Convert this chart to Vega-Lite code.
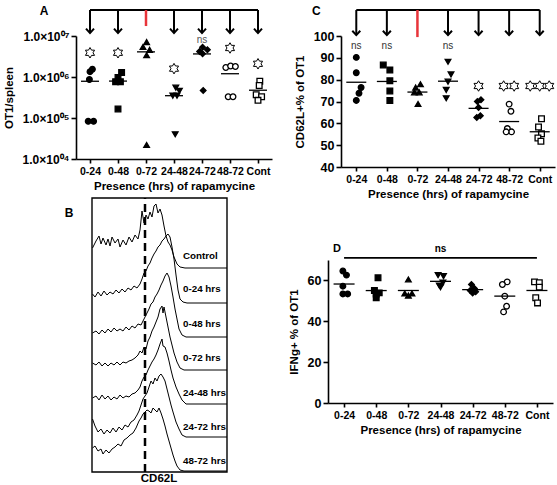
{
"$schema": "https://vega.github.io/schema/vega-lite/v6.json",
"padding": {"left": 3, "top": 4, "right": 0, "bottom": 0},
"config": {
 "font": "Liberation Sans",
 "view": {"stroke": null},
 "axis": {"labelFontWeight": "bold", "titleFontWeight": "bold", "labelColor": "black", "titleColor": "black", "domainColor": "black", "tickColor": "black", "domainWidth": 1.6, "tickWidth": 1.6, "grid": false, "labelFontSize": 10.5, "titleFontSize": 11.5},
 "axisY": {"labelFontSize": 12.5, "tickSize": 5, "labelPadding": 2, "titlePadding": 8, "labelOverlap": false},
 "axisX": {"labelAngle": 0, "tickSize": 4, "labelPadding": 3, "titlePadding": 4, "labelOverlap": false},
 "text": {"font": "Liberation Sans"}
},
"datasets": {
 "pts": [
  {"panel":"A","group":"0-24","value":1550000,"j":0.4},{"panel":"A","group":"0-24","value":1350000,"j":0.0},{"panel":"A","group":"0-24","value":870000,"j":-0.1},{"panel":"A","group":"0-24","value":83000,"j":-0.3},{"panel":"A","group":"0-24","value":83000,"j":0.6},
  {"panel":"A","group":"0-48","value":1290000,"j":0.6},{"panel":"A","group":"0-48","value":980000,"j":0.0},{"panel":"A","group":"0-48","value":770000,"j":-0.4},{"panel":"A","group":"0-48","value":770000,"j":0.4},{"panel":"A","group":"0-48","value":166000,"j":0.0},
  {"panel":"A","group":"0-72","value":7100000,"j":0.1},{"panel":"A","group":"0-72","value":5400000,"j":-0.5},{"panel":"A","group":"0-72","value":4600000,"j":0.6},{"panel":"A","group":"0-72","value":3400000,"j":0.1},{"panel":"A","group":"0-72","value":22000,"j":0.1},
  {"panel":"A","group":"24-48","value":550000,"j":0.3},{"panel":"A","group":"24-48","value":460000,"j":0.9},{"panel":"A","group":"24-48","value":350000,"j":-0.2},{"panel":"A","group":"24-48","value":350000,"j":0.5},{"panel":"A","group":"24-48","value":40000,"j":0.2},
  {"panel":"A","group":"24-72","value":5300000,"j":0.1},{"panel":"A","group":"24-72","value":4600000,"j":0.9},{"panel":"A","group":"24-72","value":4200000,"j":-0.4},{"panel":"A","group":"24-72","value":3700000,"j":0.1},{"panel":"A","group":"24-72","value":470000,"j":0.2},
  {"panel":"A","group":"48-72","value":1700000,"j":-0.7},{"panel":"A","group":"48-72","value":1850000,"j":0.1},{"panel":"A","group":"48-72","value":1800000,"j":0.9},{"panel":"A","group":"48-72","value":330000,"j":-0.3},{"panel":"A","group":"48-72","value":330000,"j":0.5},
  {"panel":"A","group":"Cont","value":790000,"j":0.3},{"panel":"A","group":"Cont","value":620000,"j":0.2},{"panel":"A","group":"Cont","value":370000,"j":-0.3},{"panel":"A","group":"Cont","value":330000,"j":0.6},{"panel":"A","group":"Cont","value":270000,"j":0.0},
  {"panel":"C","group":"0-24","value":90.2,"j":0.0},{"panel":"C","group":"0-24","value":83.2,"j":0.0},{"panel":"C","group":"0-24","value":76.4,"j":0.8},{"panel":"C","group":"0-24","value":73.8,"j":0.45},{"panel":"C","group":"0-24","value":70.5,"j":0.0},
  {"panel":"C","group":"0-48","value":86.7,"j":-0.6},{"panel":"C","group":"0-48","value":84.4,"j":0.5},{"panel":"C","group":"0-48","value":79.5,"j":0.5},{"panel":"C","group":"0-48","value":74.8,"j":0.5},{"panel":"C","group":"0-48","value":70.5,"j":0.5},
  {"panel":"C","group":"0-72","value":77.9,"j":0.5},{"panel":"C","group":"0-72","value":76.4,"j":-0.3},{"panel":"C","group":"0-72","value":74.2,"j":0.3},{"panel":"C","group":"0-72","value":74.2,"j":-0.5},{"panel":"C","group":"0-72","value":68.9,"j":0.1},
  {"panel":"C","group":"24-48","value":88.2,"j":0.0},{"panel":"C","group":"24-48","value":82.4,"j":0.5},{"panel":"C","group":"24-48","value":79.1,"j":0.0},{"panel":"C","group":"24-48","value":75.3,"j":-0.3},{"panel":"C","group":"24-48","value":71.5,"j":-0.3},
  {"panel":"C","group":"24-72","value":70.8,"j":0.4},{"panel":"C","group":"24-72","value":70.0,"j":-0.2},{"panel":"C","group":"24-72","value":67.3,"j":0.0},{"panel":"C","group":"24-72","value":63.5,"j":0.3},{"panel":"C","group":"24-72","value":62.7,"j":-0.3},
  {"panel":"C","group":"48-72","value":68.8,"j":0.0},{"panel":"C","group":"48-72","value":65.5,"j":0.3},{"panel":"C","group":"48-72","value":57.6,"j":-0.3},{"panel":"C","group":"48-72","value":56.1,"j":0.4},{"panel":"C","group":"48-72","value":56.1,"j":-0.5},
  {"panel":"C","group":"Cont","value":62.1,"j":0.3},{"panel":"C","group":"Cont","value":58.3,"j":-0.2},{"panel":"C","group":"Cont","value":55.2,"j":0.3},{"panel":"C","group":"Cont","value":53.3,"j":-0.3},{"panel":"C","group":"Cont","value":51.8,"j":0.2},
  {"panel":"D","group":"0-24","value":64.6,"j":-0.2},{"panel":"D","group":"0-24","value":62.6,"j":0.4},{"panel":"D","group":"0-24","value":57.2,"j":-0.2},{"panel":"D","group":"0-24","value":53.4,"j":-0.2},{"panel":"D","group":"0-24","value":53.4,"j":0.6},
  {"panel":"D","group":"0-48","value":61.3,"j":0.3},{"panel":"D","group":"0-48","value":55.1,"j":-0.3},{"panel":"D","group":"0-48","value":53.9,"j":0.5},{"panel":"D","group":"0-48","value":53.4,"j":0.0},{"panel":"D","group":"0-48","value":51.5,"j":0.0},
  {"panel":"D","group":"0-72","value":60.5,"j":0.0},{"panel":"D","group":"0-72","value":53.6,"j":-0.6},{"panel":"D","group":"0-72","value":52.6,"j":0.0},{"panel":"D","group":"0-72","value":53.6,"j":0.6},
  {"panel":"D","group":"24-48","value":62.6,"j":-0.4},{"panel":"D","group":"24-48","value":62.1,"j":0.5},{"panel":"D","group":"24-48","value":58.9,"j":0.4},{"panel":"D","group":"24-48","value":57.5,"j":-0.2},{"panel":"D","group":"24-48","value":56.7,"j":0.0},
  {"panel":"D","group":"24-72","value":58.0,"j":-0.2},{"panel":"D","group":"24-72","value":56.1,"j":0.3},{"panel":"D","group":"24-72","value":55.1,"j":-0.4},{"panel":"D","group":"24-72","value":54.4,"j":0.5},{"panel":"D","group":"24-72","value":53.9,"j":0.0},
  {"panel":"D","group":"48-72","value":59.3,"j":0.4},{"panel":"D","group":"48-72","value":58.0,"j":-0.4},{"panel":"D","group":"48-72","value":52.3,"j":0.0},{"panel":"D","group":"48-72","value":47.4,"j":0.3},{"panel":"D","group":"48-72","value":44.6,"j":-0.2},
  {"panel":"D","group":"Cont","value":59.3,"j":-0.4},{"panel":"D","group":"Cont","value":58.9,"j":0.4},{"panel":"D","group":"Cont","value":56.7,"j":0.4},{"panel":"D","group":"Cont","value":51.5,"j":-0.2},{"panel":"D","group":"Cont","value":49.0,"j":0.1}
 ],
 "ann": [
  {"panel":"A","group":"0-24","kind":"star","value":3900000,"k":0},
  {"panel":"A","group":"0-48","kind":"star","value":3900000,"k":0},
  {"panel":"A","group":"24-48","kind":"star","value":1600000,"k":0},
  {"panel":"A","group":"48-72","kind":"star","value":5100000,"k":0},
  {"panel":"A","group":"Cont","kind":"star","value":2100000,"k":0},
  {"panel":"A","group":"24-72","kind":"ns","value":7900000,"k":0},
  {"panel":"C","group":"0-24","kind":"ns","value":95.4,"k":0},
  {"panel":"C","group":"0-48","kind":"ns","value":95.4,"k":0},
  {"panel":"C","group":"24-48","kind":"ns","value":95.4,"k":0},
  {"panel":"C","group":"24-72","kind":"star","value":77.1,"k":0},
  {"panel":"C","group":"48-72","kind":"star","value":77.1,"k":-0.55},
  {"panel":"C","group":"48-72","kind":"star","value":77.1,"k":0.5},
  {"panel":"C","group":"Cont","kind":"star","value":77.1,"k":-0.95},
  {"panel":"C","group":"Cont","kind":"star","value":77.1,"k":0},
  {"panel":"C","group":"Cont","kind":"star","value":77.1,"k":0.95}
 ],
 "arrows": [
  {"group":"0-24","kind":"arrow"},{"group":"0-48","kind":"arrow"},{"group":"0-72","kind":"stop"},{"group":"24-48","kind":"arrow"},{"group":"24-72","kind":"arrow"},{"group":"48-72","kind":"arrow"},{"group":"Cont","kind":"arrow"}
 ],
 "hist": [
  {"s":"Control","v":0.5,"c":224},{"s":"Control","v":4,"c":231},{"s":"Control","v":7,"c":236},{"s":"Control","v":9,"c":228},{"s":"Control","v":11,"c":234},{"s":"Control","v":14,"c":227},{"s":"Control","v":16,"c":233},{"s":"Control","v":18,"c":226},{"s":"Control","v":20,"c":235},{"s":"Control","v":23,"c":229},{"s":"Control","v":26,"c":233},{"s":"Control","v":28,"c":225},{"s":"Control","v":31,"c":232},{"s":"Control","v":34,"c":227},{"s":"Control","v":37,"c":235},{"s":"Control","v":40,"c":230},{"s":"Control","v":43,"c":237},{"s":"Control","v":46,"c":233},{"s":"Control","v":48,"c":242},{"s":"Control","v":50,"c":261},{"s":"Control","v":52,"c":249},{"s":"Control","v":54,"c":257},{"s":"Control","v":56,"c":253},{"s":"Control","v":58,"c":260},{"s":"Control","v":60,"c":255},{"s":"Control","v":62,"c":266},{"s":"Control","v":64,"c":268},{"s":"Control","v":66,"c":259},{"s":"Control","v":68,"c":263},{"s":"Control","v":70,"c":257},{"s":"Control","v":72,"c":246},{"s":"Control","v":74,"c":236},{"s":"Control","v":76,"c":230},{"s":"Control","v":78,"c":227},{"s":"Control","v":80,"c":222},{"s":"Control","v":82,"c":215},{"s":"Control","v":85,"c":208},{"s":"Control","v":88,"c":205},{"s":"Control","v":93,"c":204},{"s":"Control","v":135,"c":204},
  {"s":"0-24","v":0.5,"c":178},{"s":"0-24","v":3,"c":175},{"s":"0-24","v":6,"c":180},{"s":"0-24","v":9,"c":176},{"s":"0-24","v":12,"c":181},{"s":"0-24","v":15,"c":177},{"s":"0-24","v":18,"c":180},{"s":"0-24","v":21,"c":178},{"s":"0-24","v":24,"c":182},{"s":"0-24","v":27,"c":179},{"s":"0-24","v":30,"c":183},{"s":"0-24","v":33,"c":180},{"s":"0-24","v":36,"c":184},{"s":"0-24","v":39,"c":182},{"s":"0-24","v":42,"c":186},{"s":"0-24","v":45,"c":184},{"s":"0-24","v":48,"c":188},{"s":"0-24","v":50,"c":193},{"s":"0-24","v":52,"c":199},{"s":"0-24","v":54,"c":201},{"s":"0-24","v":56,"c":206},{"s":"0-24","v":58,"c":209},{"s":"0-24","v":60,"c":214},{"s":"0-24","v":62,"c":218},{"s":"0-24","v":64,"c":221},{"s":"0-24","v":66,"c":225},{"s":"0-24","v":68,"c":227},{"s":"0-24","v":70,"c":231},{"s":"0-24","v":72,"c":233},{"s":"0-24","v":74,"c":236},{"s":"0-24","v":76,"c":238},{"s":"0-24","v":78,"c":235},{"s":"0-24","v":80,"c":225},{"s":"0-24","v":82,"c":213},{"s":"0-24","v":84,"c":197},{"s":"0-24","v":86,"c":182},{"s":"0-24","v":88,"c":173},{"s":"0-24","v":91,"c":170},{"s":"0-24","v":95,"c":169},{"s":"0-24","v":135,"c":169},
  {"s":"0-48","v":0.5,"c":139},{"s":"0-48","v":4,"c":141},{"s":"0-48","v":7,"c":138},{"s":"0-48","v":10,"c":142},{"s":"0-48","v":13,"c":139},{"s":"0-48","v":16,"c":143},{"s":"0-48","v":19,"c":140},{"s":"0-48","v":22,"c":144},{"s":"0-48","v":25,"c":141},{"s":"0-48","v":28,"c":143},{"s":"0-48","v":31,"c":141},{"s":"0-48","v":34,"c":145},{"s":"0-48","v":37,"c":142},{"s":"0-48","v":40,"c":146},{"s":"0-48","v":43,"c":144},{"s":"0-48","v":46,"c":148},{"s":"0-48","v":49,"c":147},{"s":"0-48","v":51,"c":151},{"s":"0-48","v":53,"c":155},{"s":"0-48","v":55,"c":159},{"s":"0-48","v":57,"c":163},{"s":"0-48","v":59,"c":168},{"s":"0-48","v":61,"c":170},{"s":"0-48","v":63,"c":175},{"s":"0-48","v":65,"c":178},{"s":"0-48","v":67,"c":182},{"s":"0-48","v":69,"c":187},{"s":"0-48","v":71,"c":191},{"s":"0-48","v":73,"c":196},{"s":"0-48","v":75,"c":199},{"s":"0-48","v":77,"c":195},{"s":"0-48","v":79,"c":186},{"s":"0-48","v":81,"c":175},{"s":"0-48","v":83,"c":163},{"s":"0-48","v":85,"c":153},{"s":"0-48","v":87,"c":143},{"s":"0-48","v":90,"c":137},{"s":"0-48","v":94,"c":135},{"s":"0-48","v":135,"c":135},
  {"s":"0-72","v":0.5,"c":109},{"s":"0-72","v":4,"c":107},{"s":"0-72","v":7,"c":110},{"s":"0-72","v":10,"c":106},{"s":"0-72","v":13,"c":109},{"s":"0-72","v":16,"c":106},{"s":"0-72","v":19,"c":109},{"s":"0-72","v":22,"c":107},{"s":"0-72","v":25,"c":110},{"s":"0-72","v":28,"c":107},{"s":"0-72","v":31,"c":110},{"s":"0-72","v":34,"c":109},{"s":"0-72","v":37,"c":111},{"s":"0-72","v":40,"c":112},{"s":"0-72","v":43,"c":114},{"s":"0-72","v":46,"c":117},{"s":"0-72","v":48,"c":121},{"s":"0-72","v":50,"c":119},{"s":"0-72","v":52,"c":125},{"s":"0-72","v":54,"c":123},{"s":"0-72","v":56,"c":131},{"s":"0-72","v":58,"c":135},{"s":"0-72","v":60,"c":141},{"s":"0-72","v":62,"c":145},{"s":"0-72","v":64,"c":150},{"s":"0-72","v":66,"c":155},{"s":"0-72","v":68,"c":163},{"s":"0-72","v":70,"c":166},{"s":"0-72","v":71,"c":159},{"s":"0-72","v":72,"c":165},{"s":"0-72","v":74,"c":155},{"s":"0-72","v":76,"c":145},{"s":"0-72","v":78,"c":135},{"s":"0-72","v":80,"c":127},{"s":"0-72","v":82,"c":119},{"s":"0-72","v":85,"c":110},{"s":"0-72","v":88,"c":104},{"s":"0-72","v":92,"c":102},{"s":"0-72","v":135,"c":102},
  {"s":"24-48","v":0.5,"c":74},{"s":"24-48","v":4,"c":76},{"s":"24-48","v":7,"c":72},{"s":"24-48","v":10,"c":77},{"s":"24-48","v":13,"c":73},{"s":"24-48","v":16,"c":76},{"s":"24-48","v":19,"c":72},{"s":"24-48","v":22,"c":75},{"s":"24-48","v":25,"c":73},{"s":"24-48","v":28,"c":77},{"s":"24-48","v":31,"c":74},{"s":"24-48","v":34,"c":76},{"s":"24-48","v":37,"c":75},{"s":"24-48","v":40,"c":78},{"s":"24-48","v":43,"c":79},{"s":"24-48","v":46,"c":82},{"s":"24-48","v":48,"c":85},{"s":"24-48","v":50,"c":91},{"s":"24-48","v":52,"c":95},{"s":"24-48","v":54,"c":97},{"s":"24-48","v":56,"c":102},{"s":"24-48","v":58,"c":106},{"s":"24-48","v":60,"c":110},{"s":"24-48","v":62,"c":113},{"s":"24-48","v":64,"c":117},{"s":"24-48","v":66,"c":122},{"s":"24-48","v":68,"c":128},{"s":"24-48","v":70,"c":133},{"s":"24-48","v":71,"c":126},{"s":"24-48","v":73,"c":125},{"s":"24-48","v":75,"c":119},{"s":"24-48","v":77,"c":111},{"s":"24-48","v":79,"c":102},{"s":"24-48","v":81,"c":94},{"s":"24-48","v":84,"c":85},{"s":"24-48","v":87,"c":78},{"s":"24-48","v":90,"c":72},{"s":"24-48","v":94,"c":68},{"s":"24-48","v":135,"c":68},
  {"s":"24-72","v":0.5,"c":53},{"s":"24-72","v":3,"c":46},{"s":"24-72","v":6,"c":40},{"s":"24-72","v":9,"c":43},{"s":"24-72","v":12,"c":38},{"s":"24-72","v":15,"c":42},{"s":"24-72","v":18,"c":39},{"s":"24-72","v":21,"c":44},{"s":"24-72","v":24,"c":40},{"s":"24-72","v":27,"c":45},{"s":"24-72","v":30,"c":42},{"s":"24-72","v":33,"c":47},{"s":"24-72","v":36,"c":45},{"s":"24-72","v":39,"c":50},{"s":"24-72","v":42,"c":52},{"s":"24-72","v":45,"c":57},{"s":"24-72","v":47,"c":61},{"s":"24-72","v":49,"c":67},{"s":"24-72","v":51,"c":73},{"s":"24-72","v":53,"c":76},{"s":"24-72","v":55,"c":79},{"s":"24-72","v":57,"c":85},{"s":"24-72","v":59,"c":91},{"s":"24-72","v":61,"c":88},{"s":"24-72","v":63,"c":94},{"s":"24-72","v":65,"c":91},{"s":"24-72","v":67,"c":96},{"s":"24-72","v":69,"c":98},{"s":"24-72","v":71,"c":95},{"s":"24-72","v":73,"c":91},{"s":"24-72","v":75,"c":83},{"s":"24-72","v":77,"c":75},{"s":"24-72","v":79,"c":67},{"s":"24-72","v":81,"c":60},{"s":"24-72","v":84,"c":50},{"s":"24-72","v":87,"c":43},{"s":"24-72","v":90,"c":37},{"s":"24-72","v":94,"c":35},{"s":"24-72","v":135,"c":35},
  {"s":"48-72","v":0.5,"c":24},{"s":"48-72","v":3,"c":26},{"s":"48-72","v":6,"c":21},{"s":"48-72","v":9,"c":23},{"s":"48-72","v":11,"c":18},{"s":"48-72","v":14,"c":22},{"s":"48-72","v":17,"c":19},{"s":"48-72","v":20,"c":23},{"s":"48-72","v":23,"c":25},{"s":"48-72","v":26,"c":28},{"s":"48-72","v":29,"c":26},{"s":"48-72","v":32,"c":32},{"s":"48-72","v":35,"c":34},{"s":"48-72","v":38,"c":37},{"s":"48-72","v":41,"c":39},{"s":"48-72","v":44,"c":44},{"s":"48-72","v":47,"c":51},{"s":"48-72","v":49,"c":54},{"s":"48-72","v":51,"c":58},{"s":"48-72","v":53,"c":60},{"s":"48-72","v":55,"c":62},{"s":"48-72","v":57,"c":61},{"s":"48-72","v":59,"c":59},{"s":"48-72","v":61,"c":64},{"s":"48-72","v":63,"c":62},{"s":"48-72","v":65,"c":60},{"s":"48-72","v":67,"c":64},{"s":"48-72","v":69,"c":59},{"s":"48-72","v":71,"c":53},{"s":"48-72","v":73,"c":46},{"s":"48-72","v":75,"c":38},{"s":"48-72","v":77,"c":31},{"s":"48-72","v":79,"c":24},{"s":"48-72","v":81,"c":17},{"s":"48-72","v":83,"c":11},{"s":"48-72","v":85,"c":6},{"s":"48-72","v":88,"c":2},{"s":"48-72","v":92,"c":1},{"s":"48-72","v":135,"c":1}
 ],
 "histlab": [
  {"label":"Control","v":91,"c":216},{"label":"0-24 hrs","v":91,"c":183},{"label":"0-48 hrs","v":91,"c":148},{"label":"0-72 hrs","v":91,"c":114},{"label":"24-48 hrs","v":91,"c":79},{"label":"24-72 hrs","v":91,"c":45},{"label":"48-72 hrs","v":91,"c":11}
 ]
},
"columns": 2,
"align": "each",
"bounds": "flush",
"spacing": {"row": 93, "column": 69},
"concat": [
 {
  "width": 196, "height": 123,
  "resolve": {"scale": {"xOffset": "independent"}},
  "layer": [
   {"data": {"name": "pts"}, "transform": [{"filter": "datum.panel == 'A'"}], "mark": {"type": "point", "filled": true, "stroke": "black", "strokeWidth": 1.3, "opacity": 1},
    "encoding": {
     "x": {"field": "group", "type": "nominal", "title": "Presence (hrs) of rapamycine", "scale": {"type": "point", "padding": 0.5, "domain": ["0-24","0-48","0-72","24-48","24-72","48-72","Cont"]}},
     "xOffset": {"field": "j", "type": "quantitative", "scale": {"domain": [-1, 1], "range": [-6, 6]}},
     "y": {"field": "value", "type": "quantitative", "title": "OT1/spleen", "scale": {"type": "log", "domain": [10000, 10000000], "nice": false}, "axis": {"values": [10000, 100000, 1000000, 10000000], "labelOverlap": false, "labelFontSize": 12, "labelExpr": "datum.value >= 9999999 ? '1.0×10⁰⁷' : datum.value >= 999999 ? '1.0×10⁰⁶' : datum.value >= 99999 ? '1.0×10⁰⁵' : '1.0×10⁰⁴'"}},
     "shape": {"field": "group", "type": "nominal", "scale": {"domain": ["0-24","0-48","0-72","24-48","24-72","48-72","Cont"], "range": ["circle","square","triangle-up","triangle-down","diamond","circle","square"]}, "legend": null},
     "fill": {"field": "group", "type": "nominal", "scale": {"domain": ["0-24","0-48","0-72","24-48","24-72","48-72","Cont"], "range": ["black","black","black","black","black","white","white"]}, "legend": null},
     "size": {"field": "group", "type": "nominal", "scale": {"domain": ["0-24","0-48","0-72","24-48","24-72","48-72","Cont"], "range": [32,32,36,36,26,38,38]}, "legend": null}
    }},
   {"data": {"name": "pts"}, "transform": [{"filter": "datum.panel == 'A'"}], "mark": {"type": "tick", "orient": "horizontal", "color": "black", "thickness": 1.3, "size": 18},
    "encoding": {"x": {"field": "group", "type": "nominal", "title": "Presence (hrs) of rapamycine"}, "y": {"aggregate": "mean", "field": "value", "type": "quantitative", "title": "OT1/spleen"}}},
   {"data": {"values": [{"letter": "A"}]}, "mark": {"type": "rule", "strokeWidth": 2, "color": "black"},
    "encoding": {"x": {"datum": "0-24", "type": "nominal"}, "x2": {"datum": "Cont"}, "y": {"datum": 43000000, "type": "quantitative"}}},
   {"data": {"name": "arrows"}, "transform": [{"filter": "datum.kind == 'arrow'"}], "mark": {"type": "rule", "strokeWidth": 2, "color": "black"},
    "encoding": {"x": {"field": "group", "type": "nominal", "title": "Presence (hrs) of rapamycine"}, "y": {"datum": 43000000, "type": "quantitative"}, "y2": {"datum": 11800000}}},
   {"data": {"name": "arrows"}, "transform": [{"filter": "datum.kind == 'arrow'"}], "mark": {"type": "point", "shape": "M-1,-1.1L0,0L1,-1.1", "filled": false, "stroke": "black", "strokeWidth": 2, "size": 64, "opacity": 1},
    "encoding": {"x": {"field": "group", "type": "nominal", "title": "Presence (hrs) of rapamycine"}, "y": {"datum": 11800000, "type": "quantitative"}}},
   {"data": {"name": "arrows"}, "transform": [{"filter": "datum.kind == 'stop'"}], "mark": {"type": "rule", "strokeWidth": 2.5, "color": "#e8343a"},
    "encoding": {"x": {"field": "group", "type": "nominal", "title": "Presence (hrs) of rapamycine"}, "y": {"datum": 43000000, "type": "quantitative"}, "y2": {"datum": 17500000}}},
   {"data": {"values": [{"letter": "A"}]}, "mark": {"type": "text", "fontWeight": "bold", "fontSize": 12, "dx": -46, "color": "black"},
    "encoding": {"x": {"datum": "0-24", "type": "nominal"}, "y": {"datum": 40600000, "type": "quantitative"}, "text": {"field": "letter"}}},
   {"data": {"name": "ann"}, "transform": [{"filter": "datum.panel == 'A' && datum.kind == 'star'"}], "mark": {"type": "point", "shape": "M0,-1L0.289,-0.5L0.866,-0.5L0.577,0L0.866,0.5L0.289,0.5L0,1L-0.289,0.5L-0.866,0.5L-0.577,0L-0.866,-0.5L-0.289,-0.5Z", "filled": true, "fill": "white", "stroke": "black", "strokeWidth": 1, "size": 110, "opacity": 1},
    "encoding": {"x": {"field": "group", "type": "nominal", "title": "Presence (hrs) of rapamycine"}, "y": {"field": "value", "type": "quantitative", "title": "OT1/spleen"}}},
   {"data": {"name": "ann"}, "transform": [{"filter": "datum.panel == 'A' && datum.kind == 'ns'"}], "mark": {"type": "text", "fontSize": 10, "color": "#555"},
    "encoding": {"x": {"field": "group", "type": "nominal", "title": "Presence (hrs) of rapamycine"}, "y": {"field": "value", "type": "quantitative", "title": "OT1/spleen"}, "text": {"value": "ns"}}}
  ]
 },
 {
  "width": 214, "height": 131,
  "resolve": {"scale": {"xOffset": "independent"}},
  "layer": [
   {"data": {"name": "pts"}, "transform": [{"filter": "datum.panel == 'C'"}], "mark": {"type": "point", "filled": true, "stroke": "black", "strokeWidth": 1.3, "opacity": 1},
    "encoding": {
     "x": {"field": "group", "type": "nominal", "title": "Presence (hrs) of rapamycine", "scale": {"type": "point", "padding": 0.5, "domain": ["0-24","0-48","0-72","24-48","24-72","48-72","Cont"]}},
     "xOffset": {"field": "j", "type": "quantitative", "scale": {"domain": [-1, 1], "range": [-6, 6]}},
     "y": {"field": "value", "type": "quantitative", "title": "CD62L+% of OT1", "scale": {"domain": [40, 100], "nice": false, "zero": false}, "axis": {"values": [40,50,60,70,80,90,100], "tickCount": 7, "labelOverlap": false}},
     "shape": {"field": "group", "type": "nominal", "scale": {"domain": ["0-24","0-48","0-72","24-48","24-72","48-72","Cont"], "range": ["circle","square","triangle-up","triangle-down","diamond","circle","square"]}, "legend": null},
     "fill": {"field": "group", "type": "nominal", "scale": {"domain": ["0-24","0-48","0-72","24-48","24-72","48-72","Cont"], "range": ["black","black","black","black","black","white","white"]}, "legend": null},
     "size": {"field": "group", "type": "nominal", "scale": {"domain": ["0-24","0-48","0-72","24-48","24-72","48-72","Cont"], "range": [32,32,36,36,26,38,38]}, "legend": null}
    }},
   {"data": {"name": "pts"}, "transform": [{"filter": "datum.panel == 'C'"}], "mark": {"type": "tick", "orient": "horizontal", "color": "black", "thickness": 1.3, "size": 20},
    "encoding": {"x": {"field": "group", "type": "nominal", "title": "Presence (hrs) of rapamycine"}, "y": {"aggregate": "mean", "field": "value", "type": "quantitative", "title": "CD62L+% of OT1", "axis": {"values": [40,50,60,70,80,90,100], "tickCount": 7, "labelOverlap": false}}}},
   {"data": {"values": [{"letter": "C"}]}, "mark": {"type": "rule", "strokeWidth": 2, "color": "black"},
    "encoding": {"x": {"datum": "0-24", "type": "nominal"}, "x2": {"datum": "Cont"}, "y": {"datum": 111.9, "type": "quantitative", "axis": {"values": [40,50,60,70,80,90,100], "tickCount": 7, "labelOverlap": false}}}},
   {"data": {"name": "arrows"}, "transform": [{"filter": "datum.kind == 'arrow'"}], "mark": {"type": "rule", "strokeWidth": 2, "color": "black"},
    "encoding": {"x": {"field": "group", "type": "nominal", "title": "Presence (hrs) of rapamycine"}, "y": {"datum": 111.9, "type": "quantitative", "axis": {"values": [40,50,60,70,80,90,100], "tickCount": 7, "labelOverlap": false}}, "y2": {"datum": 100.4}}},
   {"data": {"name": "arrows"}, "transform": [{"filter": "datum.kind == 'arrow'"}], "mark": {"type": "point", "shape": "M-1,-1.1L0,0L1,-1.1", "filled": false, "stroke": "black", "strokeWidth": 2, "size": 64, "opacity": 1},
    "encoding": {"x": {"field": "group", "type": "nominal", "title": "Presence (hrs) of rapamycine"}, "y": {"datum": 100.4, "type": "quantitative", "axis": {"values": [40,50,60,70,80,90,100], "tickCount": 7, "labelOverlap": false}}}},
   {"data": {"name": "arrows"}, "transform": [{"filter": "datum.kind == 'stop'"}], "mark": {"type": "rule", "strokeWidth": 2.5, "color": "#e8343a"},
    "encoding": {"x": {"field": "group", "type": "nominal", "title": "Presence (hrs) of rapamycine"}, "y": {"datum": 111.9, "type": "quantitative", "axis": {"values": [40,50,60,70,80,90,100], "tickCount": 7, "labelOverlap": false}}, "y2": {"datum": 99.5}}},
   {"data": {"values": [{"letter": "C"}]}, "mark": {"type": "text", "fontWeight": "bold", "fontSize": 12, "dx": -40, "color": "black"},
    "encoding": {"x": {"datum": "0-24", "type": "nominal"}, "y": {"datum": 111.5, "type": "quantitative", "axis": {"values": [40,50,60,70,80,90,100], "tickCount": 7, "labelOverlap": false}}, "text": {"field": "letter"}}},
   {"data": {"name": "ann"}, "transform": [{"filter": "datum.panel == 'C' && datum.kind == 'star'"}], "mark": {"type": "point", "shape": "M0,-1L0.289,-0.5L0.866,-0.5L0.577,0L0.866,0.5L0.289,0.5L0,1L-0.289,0.5L-0.866,0.5L-0.577,0L-0.866,-0.5L-0.289,-0.5Z", "filled": true, "fill": "white", "stroke": "black", "strokeWidth": 1, "size": 110, "opacity": 1},
    "encoding": {"x": {"field": "group", "type": "nominal", "title": "Presence (hrs) of rapamycine"}, "xOffset": {"field": "k", "type": "quantitative", "scale": {"domain": [-1, 1], "range": [-10, 10]}}, "y": {"field": "value", "type": "quantitative", "title": "CD62L+% of OT1", "axis": {"values": [40,50,60,70,80,90,100], "tickCount": 7, "labelOverlap": false}}}},
   {"data": {"name": "ann"}, "transform": [{"filter": "datum.panel == 'C' && datum.kind == 'ns'"}], "mark": {"type": "text", "fontSize": 10, "color": "#333"},
    "encoding": {"x": {"field": "group", "type": "nominal", "title": "Presence (hrs) of rapamycine"}, "y": {"field": "value", "type": "quantitative", "title": "CD62L+% of OT1", "axis": {"values": [40,50,60,70,80,90,100], "tickCount": 7, "labelOverlap": false}}, "text": {"value": "ns"}}}
  ]
 },
 {
  "width": 196, "height": 212,
  "layer": [
   {"data": {"values": [{"letter": "B"}]}, "mark": {"type": "rect", "fill": null, "fillOpacity": 0, "stroke": "black", "strokeWidth": 1.4},
    "encoding": {"x": {"datum": 0, "type": "quantitative", "axis": null}, "x2": {"datum": 135}, "y": {"datum": 0, "type": "quantitative", "axis": null}, "y2": {"datum": 274}}},
   {"data": {"values": [{"letter": "B"}]}, "mark": {"type": "rule", "strokeWidth": 2.5, "strokeDash": [8, 5], "color": "black"},
    "encoding": {"x": {"datum": 53, "type": "quantitative", "axis": null}, "y": {"datum": 0, "type": "quantitative", "axis": null}, "y2": {"datum": 274}}},
   {"data": {"name": "hist"}, "mark": {"type": "line", "color": "black", "strokeWidth": 1},
    "encoding": {"x": {"field": "v", "type": "quantitative", "scale": {"domain": [-16, 180], "nice": false, "zero": false}, "axis": null}, "y": {"field": "c", "type": "quantitative", "scale": {"domain": [0, 212], "nice": false, "zero": false}, "axis": null}, "detail": {"field": "s", "type": "nominal"}}},
   {"data": {"name": "histlab"}, "mark": {"type": "text", "align": "left", "baseline": "middle", "fontSize": 9.8, "fontWeight": "bold", "color": "black"},
    "encoding": {"x": {"field": "v", "type": "quantitative", "axis": null}, "y": {"field": "c", "type": "quantitative", "axis": null}, "text": {"field": "label"}}},
   {"data": {"values": [{"letter": "B"}]}, "mark": {"type": "text", "fontSize": 12, "fontWeight": "bold", "color": "black"},
    "encoding": {"x": {"datum": -23, "type": "quantitative", "axis": null}, "y": {"datum": 259, "type": "quantitative", "axis": null}, "text": {"field": "letter"}}},
   {"data": {"values": [{"t": "CD62L"}]}, "mark": {"type": "text", "fontSize": 11.5, "fontWeight": "bold", "color": "black"},
    "encoding": {"x": {"datum": 67, "type": "quantitative", "axis": null}, "y": {"datum": -7, "type": "quantitative", "axis": null}, "text": {"field": "t"}}}
  ]
 },
 {
  "width": 212, "height": 143,
  "layer": [
   {"data": {"name": "pts"}, "transform": [{"filter": "datum.panel == 'D'"}], "mark": {"type": "point", "filled": true, "stroke": "black", "strokeWidth": 1.3, "opacity": 1},
    "encoding": {
     "x": {"field": "group", "type": "nominal", "title": "Presence (hrs) of rapamycine", "scale": {"type": "point", "padding": 0.5, "rangeMin": -13, "domain": ["0-24","0-48","0-72","24-48","24-72","48-72","Cont"]}},
     "xOffset": {"field": "j", "type": "quantitative", "scale": {"domain": [-1, 1], "range": [-6, 6]}},
     "y": {"field": "value", "type": "quantitative", "title": "IFNg+ % of OT1", "scale": {"domain": [0, 70], "nice": false}, "axis": {"values": [0, 20, 40, 60], "offset": 13, "labelOverlap": false}},
     "shape": {"field": "group", "type": "nominal", "scale": {"domain": ["0-24","0-48","0-72","24-48","24-72","48-72","Cont"], "range": ["circle","square","triangle-up","triangle-down","diamond","circle","square"]}, "legend": null},
     "fill": {"field": "group", "type": "nominal", "scale": {"domain": ["0-24","0-48","0-72","24-48","24-72","48-72","Cont"], "range": ["black","black","black","black","black","white","white"]}, "legend": null},
     "size": {"field": "group", "type": "nominal", "scale": {"domain": ["0-24","0-48","0-72","24-48","24-72","48-72","Cont"], "range": [32,32,36,36,26,38,38]}, "legend": null}
    }},
   {"data": {"name": "pts"}, "transform": [{"filter": "datum.panel == 'D'"}], "mark": {"type": "tick", "orient": "horizontal", "color": "black", "thickness": 1.3, "size": 21},
    "encoding": {"x": {"field": "group", "type": "nominal", "title": "Presence (hrs) of rapamycine"}, "y": {"aggregate": "mean", "field": "value", "type": "quantitative", "title": "IFNg+ % of OT1"}}},
   {"data": {"values": [{"letter": "D"}]}, "mark": {"type": "rule", "strokeWidth": 1.8, "color": "black"},
    "encoding": {"x": {"datum": "0-24", "type": "nominal"}, "x2": {"datum": "Cont"}, "y": {"datum": 71, "type": "quantitative"}}},
   {"data": {"values": [{"letter": "ns", "group": "24-48"}]}, "mark": {"type": "text", "fontSize": 10, "fontWeight": "bold", "color": "black"},
    "encoding": {"x": {"field": "group", "type": "nominal", "title": "Presence (hrs) of rapamycine"}, "y": {"datum": 75.4, "type": "quantitative"}, "text": {"field": "letter"}}},
   {"data": {"values": [{"letter": "D", "group": "0-24"}]}, "mark": {"type": "text", "fontSize": 11, "fontWeight": "bold", "color": "black", "dx": -7},
    "encoding": {"x": {"field": "group", "type": "nominal", "title": "Presence (hrs) of rapamycine"}, "y": {"datum": 75.4, "type": "quantitative"}, "text": {"field": "letter"}}}
  ]
 }
]
}
